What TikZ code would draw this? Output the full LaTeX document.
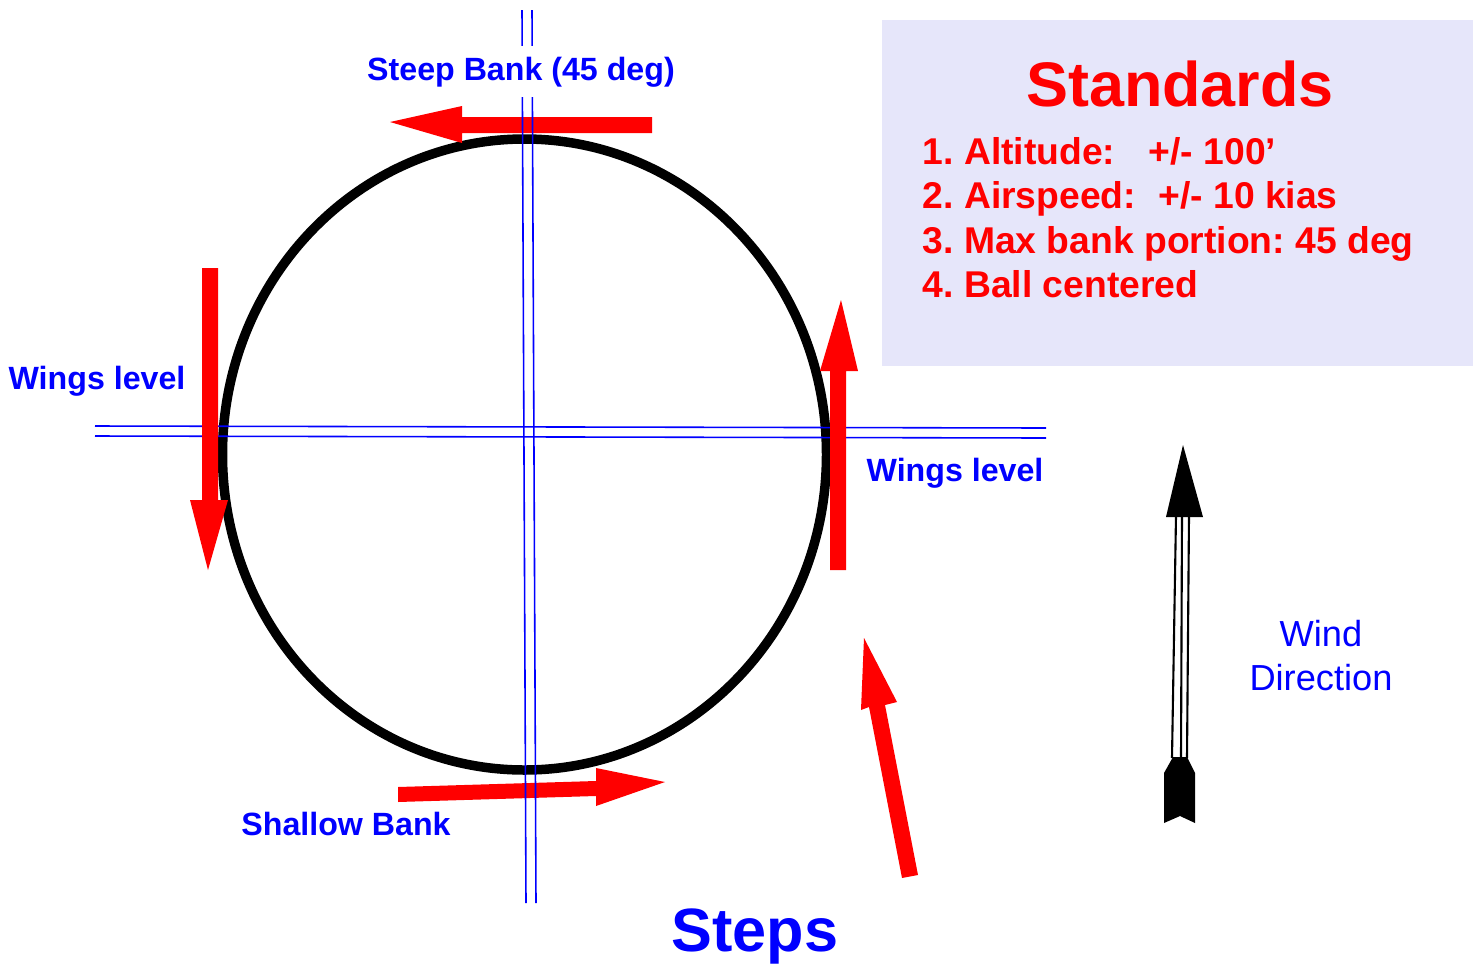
\documentclass[tikz,border=0pt]{standalone}
\usepackage{fontspec}
\setmainfont{Liberation Sans}
\definecolor{lav}{RGB}{230,230,250}
\definecolor{pblue}{RGB}{0,0,255}
\definecolor{pred}{RGB}{255,0,0}
\frenchspacing
\begin{document}
\begin{tikzpicture}[x=0.01cm,y=-0.01cm,
  bluelab/.style={text=pblue,font=\bfseries\fontsize{9.15pt}{11pt}\selectfont,inner sep=0pt,anchor=base},
  redarrow/.style={fill=pred,draw=none},
  guide/.style={draw=pblue,line width=0.45pt},
  stdline/.style={text=pred,font=\bfseries\fontsize{10.6pt}{12pt}\selectfont,anchor=base west,inner sep=0pt},
  windline/.style={draw=black,line width=0.6pt}]
\useasboundingbox (0,0) rectangle (1478,966);
% standards panel
\fill[lav] (882,20) rectangle (1473,366);
% circuit
\draw[line width=2.7pt] (524.5,454.5) ellipse [x radius=302, y radius=315.5];
% horizontal guides
\draw[guide] (95,426) -- (1046,428);
\draw[guide] (95,436) -- (1046,438);
% red arrows
\fill[redarrow] (652,117) -- (652,133) -- (462,133) -- (462,143) -- (390,122) -- (462,106) -- (462,117) -- cycle;
\fill[redarrow] (202,268) -- (218,268) -- (218,500) -- (228,500) -- (208,570) -- (190,500) -- (202,500) -- cycle;
\fill[redarrow] (830,570) -- (846,570) -- (846,371) -- (858,371) -- (841,300) -- (820,371) -- (830,371) -- cycle;
\fill[redarrow] (398,787) -- (596,781) -- (596,768) -- (665,782) -- (596,806) -- (596,796) -- (398,802) -- cycle;
\fill[redarrow] (902,878) -- (918,875) -- (885,705) -- (897,702) -- (864,638) -- (861,710) -- (869,707) -- cycle;
% vertical guides
\draw[guide] (522,10) -- (526,903);
\draw[guide] (532,10) -- (536,903);
% wind arrow
\fill[black] (1183,445) -- (1203,517) -- (1166,517) -- cycle;
\draw[windline] (1176,516) -- (1172,758);
\draw[windline] (1182,516) -- (1181,758);
\draw[windline] (1189,516) -- (1187,758);
\fill[black] (1173,757) -- (1187,757) -- (1195,773) -- (1195,823) -- (1180,816) -- (1164,823) -- (1164,773) -- cycle;
% labels
\node[bluelab,fill=white,inner sep=3pt] (steep) at (521,80) {Steep Bank (45 deg)};
\node[bluelab] (wlleft) at (97,389) {Wings level};
\node[bluelab] (wlright) at (955,481) {Wings level};
\node[bluelab] (shallow) at (346,835) {Shallow Bank};
\node[text=pblue,font=\bfseries\fontsize{17.4pt}{20pt}\selectfont,anchor=base,inner sep=0pt] (steps) at (755,951) {Steps};
\node[text=pred,font=\bfseries\fontsize{17.9pt}{20pt}\selectfont,anchor=base,inner sep=0pt] (std) at (1180,106) {Standards};
\node[stdline] (s1) at (922,164) {1. Altitude:\hspace{0.9em}+/- 100’};
\node[stdline] (s2) at (922,208) {2. Airspeed:\hspace{0.6em}+/- 10 kias};
\node[stdline] (s3) at (922,253) {3. Max bank portion: 45 deg};
\node[stdline] (s4) at (922,297) {4. Ball centered};
\node[text=pblue,font=\fontsize{10.3pt}{12.5pt}\selectfont,align=center,inner sep=0pt] (wind) at (1321,656) {Wind\\Direction};
\end{tikzpicture}
\end{document}
